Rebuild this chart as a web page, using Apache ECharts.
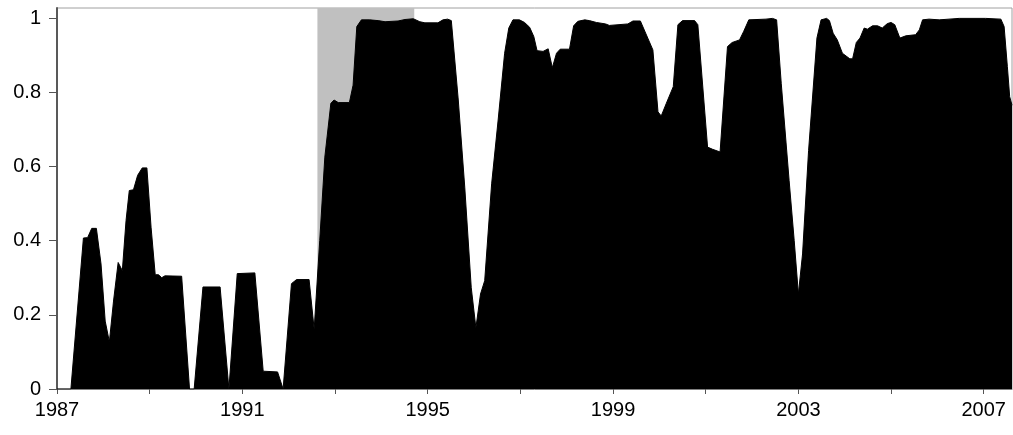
<!DOCTYPE html>
<html>
<head>
<meta charset="utf-8">
<script src="https://cdn.jsdelivr.net/npm/echarts@6/dist/echarts.min.js"></script>
<style>
html,body{margin:0;padding:0;background:#fff;}
#chart{width:1013px;height:435px;}
</style>
</head>
<body>
<div id="chart"></div>
<script>
const years = [
1987.00,1987.30,1987.57,1987.66,1987.75,1987.85,1987.95,1988.04,1988.13,1988.22,
1988.32,1988.41,1988.49,1988.56,1988.65,1988.74,1988.84,1988.94,1989.03,1989.12,
1989.19,1989.26,1989.33,1989.69,1989.86,1989.96,1990.15,1990.52,1990.71,1990.89,
1991.27,1991.45,1991.76,1991.88,1992.06,1992.17,1992.44,1992.55,1992.67,1992.78,
1992.91,1992.98,1993.07,1993.31,1993.39,1993.47,1993.57,1993.75,1993.93,1994.08,
1994.36,1994.51,1994.69,1994.83,1994.94,1995.22,1995.33,1995.43,1995.51,1995.66,
1995.80,1995.94,1996.04,1996.14,1996.23,1996.38,1996.52,1996.66,1996.75,1996.84,
1996.98,1997.09,1997.20,1997.29,1997.36,1997.49,1997.60,1997.69,1997.78,1997.86,
1998.06,1998.15,1998.24,1998.39,1998.49,1998.64,1998.84,1998.92,1999.32,1999.43,
1999.59,1999.86,1999.97,2000.04,2000.15,2000.30,2000.40,2000.50,2000.76,2000.83,
2001.04,2001.15,2001.31,2001.47,2001.57,2001.73,2001.82,2001.93,2002.30,2002.44,
2002.53,2002.63,2002.80,2002.91,2003.00,2003.09,2003.22,2003.40,2003.49,2003.61,
2003.67,2003.75,2003.84,2003.95,2004.11,2004.17,2004.25,2004.33,2004.42,2004.49,
2004.60,2004.71,2004.81,2004.92,2005.00,2005.08,2005.19,2005.32,2005.53,2005.61,
2005.68,2005.82,2006.04,2006.25,2006.47,2007.04,2007.37,2007.44,2007.51,2007.56,
2007.61
];
const values = [
0,0,0.407,0.408,0.433,0.433,0.337,0.183,0.127,0.237,
0.341,0.319,0.454,0.535,0.537,0.576,0.596,0.596,0.436,0.308,
0.308,0.300,0.305,0.304,0,0,0.275,0.275,0,0.311,
0.313,0.048,0.046,0,0.284,0.295,0.295,0.161,0.40,0.625,
0.770,0.779,0.772,0.772,0.819,0.977,0.995,0.995,0.993,0.990,
0.992,0.996,0.998,0.990,0.987,0.987,0.995,0.997,0.993,0.779,
0.544,0.273,0.165,0.256,0.292,0.553,0.725,0.905,0.973,0.995,
0.995,0.988,0.975,0.950,0.912,0.910,0.917,0.866,0.905,0.916,
0.916,0.979,0.991,0.995,0.993,0.988,0.984,0.980,0.984,0.992,
0.992,0.914,0.747,0.736,0.770,0.815,0.982,0.993,0.993,0.982,
0.652,0.646,0.639,0.923,0.934,0.941,0.964,0.995,0.997,0.999,
0.995,0.824,0.562,0.40,0.256,0.364,0.643,0.946,0.995,0.999,
0.993,0.959,0.941,0.905,0.890,0.890,0.934,0.946,0.973,0.970,
0.979,0.979,0.973,0.985,0.988,0.982,0.946,0.952,0.955,0.968,
0.995,0.997,0.995,0.997,0.999,0.999,0.997,0.977,0.869,0.788,
0.765
];
const shadedPeriod = [1992.62, 1994.71];
const xTickYears = [1987,1989,1991,1993,1995,1997,1999,2001,2003,2005,2007];
const xLabelYears = [1987,1991,1995,1999,2003,2007];
const yTicks = [0,0.2,0.4,0.6,0.8,1];

const seriesData = years.map((y, i) => [y, values[i]]);
const font = '"Liberation Sans", Arial, sans-serif';

const chart = echarts.init(document.getElementById('chart'), null, {renderer: 'canvas'});
chart.setOption({
  animation: false,
  backgroundColor: '#fff',
  grid: {
    left: 57, right: 1, top: 8, bottom: 46,
    show: true, borderColor: '#a0a0a0', borderWidth: 1, backgroundColor: 'transparent'
  },
  xAxis: {
    type: 'value',
    min: 1987, max: 2007.61,
    interval: 2,
    axisLine: {show: true, onZero: false, lineStyle: {color: '#808080', width: 1}},
    axisTick: {show: true, length: 5, lineStyle: {color: '#555'}, customValues: xTickYears},
    axisLabel: {
      show: true, color: '#000', fontSize: 20, fontFamily: font, margin: 11,
      customValues: xLabelYears,
      formatter: v => (xLabelYears.indexOf(Math.round(v)) >= 0 && Math.abs(v - Math.round(v)) < 1e-6) ? String(Math.round(v)) : ''
    },
    splitLine: {show: false}
  },
  yAxis: {
    type: 'value',
    min: 0, max: 1.027,
    interval: 0.2,
    axisLine: {show: true, lineStyle: {color: '#595959', width: 2}},
    axisTick: {show: true, length: 8, lineStyle: {color: '#555'}, customValues: yTicks},
    axisLabel: {
      show: true, color: '#000', fontSize: 20, fontFamily: font, margin: 16,
      customValues: yTicks,
      formatter: v => {
        const r = Math.round(v * 10) / 10;
        if (Math.abs(v - r) > 1e-6 || r > 1) return '';
        return String(r);
      }
    },
    splitLine: {show: false}
  },
  series: [{
    type: 'line',
    data: seriesData,
    symbol: 'none',
    smooth: false,
    z: 3,
    lineStyle: {color: '#000', width: 1},
    areaStyle: {color: '#000', opacity: 1},
    markArea: {
      silent: true,
      z: 1,
      itemStyle: {color: '#c0c0c0', opacity: 1},
      data: [[{xAxis: shadedPeriod[0]}, {xAxis: shadedPeriod[1]}]]
    }
  }]
});
</script>
</body>
</html>
